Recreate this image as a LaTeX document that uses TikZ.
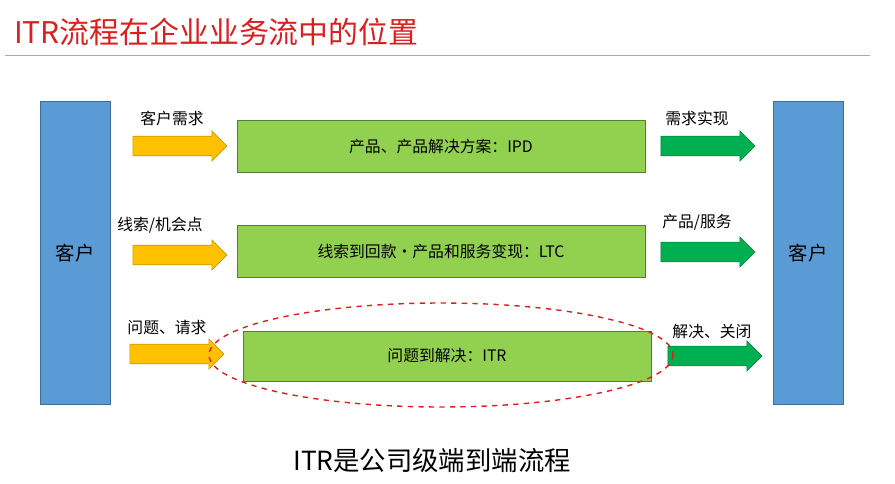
\documentclass[tikz,border=0pt]{standalone}
\usepackage{fontspec}
\setmainfont{Noto Sans CJK SC}
\usetikzlibrary{shapes.arrows, positioning}
\definecolor{custblue}{RGB}{91,155,213}
\definecolor{procgreen}{RGB}{146,208,80}
\definecolor{inarrow}{RGB}{255,192,0}
\definecolor{outarrow}{RGB}{0,176,80}
\definecolor{titlered}{RGB}{220,30,30}
\tikzset{
    custbox/.style={draw=custblue!70!black, fill=custblue, minimum width=1.4cm, minimum height=6.06cm, font=\fontsize{11}{13}\selectfont},
    procbox/.style={draw=procgreen!60!black, fill=procgreen, minimum width=8.16cm, minimum height=1.04cm, font=\fontsize{9}{11}\selectfont},
    inarr/.style={single arrow, draw=inarrow!80!black, fill=inarrow, minimum width=0.6cm, minimum height=1.88cm, single arrow head extend=0.1cm, inner xsep=0pt, inner ysep=0.18cm},
    outarr/.style={single arrow, draw=outarrow!80!black, fill=outarrow, minimum width=0.6cm, minimum height=1.88cm, single arrow head extend=0.1cm, inner xsep=0pt, inner ysep=0.18cm},
    flowlabel/.style={font=\fontsize{9}{11}\selectfont}
}
\begin{document}
\begin{tikzpicture}[x=0.02cm, y=-0.02cm]
    \useasboundingbox (0,0) rectangle (895,483);

    % Title
    \node[anchor=west, text=titlered, font=\fontsize{17}{19}\selectfont] (title) at (8,32) {ITR流程在企业业务流中的位置};
    \draw[titlered!50, thin] (5,55) -- (870,55);

    % Customers
    \node[custbox] (custL) at (75,253) {客户};
    \node[custbox] (custR) at (808,253) {客户};

    % Processes
    \node[procbox] (ipd) at (441,146) {产品、产品解决方案：IPD};
    \node[procbox] (ltc) at (441,251) {线索到回款·产品和服务变现：LTC};
    \node[procbox, minimum height=1cm] (itr) at (447,356) {问题到解决：ITR};

    % Input arrows
    \node[inarr] (in1) at (175,146) {};
    \node[inarr] (in2) at (175,255) {};
    \node[inarr] (in3) at (172,354) {};
    \node[flowlabel] at (172,118) {客户需求};
    \node[flowlabel] at (160,225) {线索/机会点};
    \node[flowlabel] at (167,328) {问题、请求};

    % Output arrows
    \node[outarr] (out1) at (703,146) {};
    \node[outarr] (out2) at (703,252) {};
    \node[outarr] (out3) at (710,356) {};
    \node[flowlabel] at (697,118) {需求实现};
    \node[flowlabel] at (697,222) {产品/服务};
    \node[flowlabel] at (712,332) {解决、关闭};

    % Highlight
    \draw[titlered, dashed, thick] (441,355) ellipse [x radius=232, y radius=52];

    % Caption
    \node[font=\fontsize{15}{17}\selectfont] (caption) at (432,460) {ITR是公司级端到端流程};
\end{tikzpicture}
\end{document}
